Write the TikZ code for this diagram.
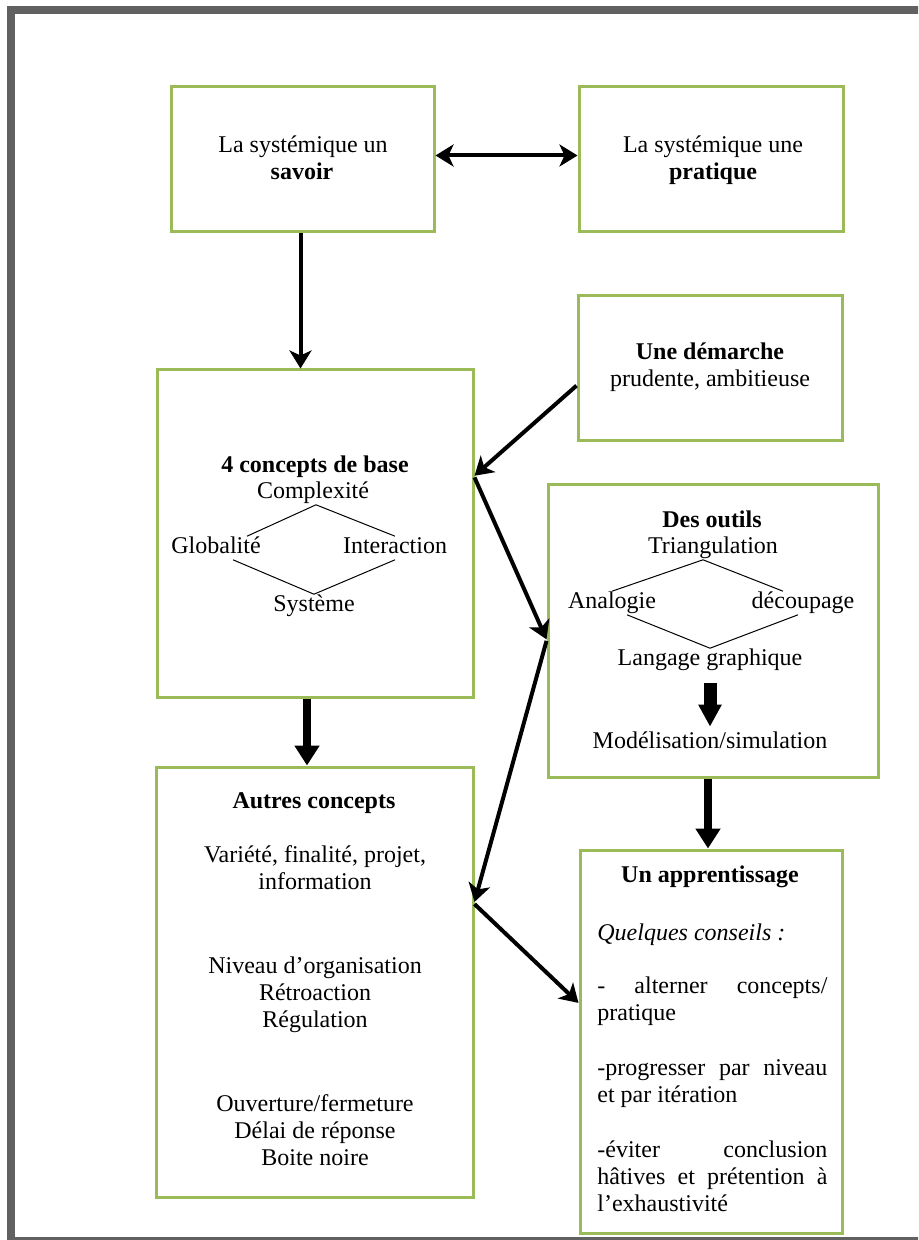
\documentclass[tikz,border=0pt]{standalone}
\usepackage{fontspec}
\setmainfont{Liberation Serif}
\usetikzlibrary{arrows.meta,calc,fit}
\definecolor{vertcadre}{RGB}{155,187,89}
\definecolor{griscadre}{RGB}{97,97,97}

\tikzset{
  cadre/.style={draw=vertcadre, line width=1.5pt, inner sep=0pt},
  ligne/.style={inner sep=0pt, font=\fontsize{12pt}{13.5pt}\selectfont, text height=8.4pt, text depth=3pt},
  titre/.style={ligne, font=\fontsize{12pt}{13.5pt}\selectfont\bfseries},
  trait/.style={line width=0.5pt},
  fleche/.style={line width=2pt, -{Stealth[length=9pt,width=11pt,inset=2.5pt]}},
  grossefleche/.style={line width=4pt, -{Triangle[length=10pt,width=12pt]}},
}

\begin{document}
\begin{tikzpicture}[x=0.5pt, y=-0.5pt]
            \useasboundingbox (0,0) rectangle (918,1240);
            \clip (0,0) rectangle (918,1240);

            % grey frame round the page
            \draw[griscadre, line width=4pt] (940,10) -- (11,10) -- (11,1241) -- (940,1241);

            % boxes
            \node[cadre, fit={(171,87) (434,232)}] (savoir) {};
            \node[cadre, fit={(579,87) (843,232)}] (pratique) {};
            \node[cadre, fit={(578,296) (842,440)}] (demarche) {};
            \node[cadre, fit={(157,370) (473,697)}] (concepts) {};
            \node[cadre, fit={(548,484) (878,777)}] (outils) {};
            \node[cadre, fit={(156,767) (473,1197)}] (autres) {};
            \node[cadre, fit={(580,850) (842,1233)}] (apprent) {};

            % top row
            \node[ligne] (savoir1) at (303,147) {La systémique un};
            \node[titre] (savoir2) at (302,174) {savoir};
            \node[ligne] (pratique1) at (713,147) {La systémique une};
            \node[titre] (pratique2) at (713,174) {pratique};
            \node[titre] (demarche1) at (710,354) {Une démarche};
            \node[ligne] (demarche2) at (710,381) {prudente, ambitieuse};

            % 4 concepts de base
            \node[titre] (titre4) at (315,467) {4 concepts de base};
            \node[ligne] (cplx) at (313,493) {Complexité};
            \node[ligne] (glob) at (216,548) {Globalité};
            \node[ligne] (inter) at (395,548) {Interaction};
            \node[ligne] (syst) at (314,606) {Système};
            \draw[trait] ($(cplx.south)+(3,0)$) -- ($(glob.north)+(31,0)$);
            \draw[trait] ($(cplx.south)+(3,0)$) -- (inter.north);
            \draw[trait] ($(glob.south)+(17,0)$) -- (syst.north);
            \draw[trait] (inter.south) -- (syst.north);

            % des outils
            \node[titre] (titre5) at (712,522) {Des outils};
            \node[ligne] (tri) at (713,548) {Triangulation};
            \node[ligne] (ana) at (612,603) {Analogie};
            \node[ligne] (dec) at (803,603) {découpage};
            \node[ligne] (lang) at (710,660) {Langage graphique};
            \node[ligne] (model) at (710,743) {Modélisation/simulation};
            \draw[trait] ($(tri.south)+(-10,0)$) -- (ana.north);
            \draw[trait] ($(tri.south)+(-10,0)$) -- ($(dec.north)+(-20,0)$);
            \draw[trait] ($(ana.south)+(15,0)$) -- (lang.north);
            \draw[trait] ($(dec.south)+(-5,0)$) -- (lang.north);
            \draw[line width=6.5pt, -{Triangle[length=11pt,width=11pt]}, shorten <=5.8pt, shorten >=2.3pt] (lang.south) -- (model.north);

            % autres concepts
            \node[titre] (titre6) at (314,803) {Autres concepts};
            \foreach \y/\txt [count=\k] in {857/{Variété, finalité, projet,}, 884/information,
                    968/Niveau d’organisation, 995/Rétroaction, 1022/Régulation,
                    1106/{Ouverture/fermeture}, 1133/Délai de réponse, 1160/Boite noire}
            \node[ligne] (autre\k) at (315,\y) {\txt};

            % un apprentissage
            \node[titre] (titre7) at (710,877) {Un apprentissage};
            \node[ligne, anchor=west] (conseils) at (597,935) {\itshape Quelques conseils :};
            \foreach \y/\mode/\txt [count=\k] in {988/s/{- alterner concepts/}, 1015/l/pratique,
                    1070/s/-progresser par niveau, 1097/l/et par itération,
                    1152/s/-éviter conclusion, 1179/s/hâtives et prétention à, 1206/l/l’exhaustivité}
            \node[ligne, anchor=west] (conseil\k) at (597,\y) {\makebox[115pt][\mode]{\txt}};

            % arrows
            \draw[fleche, {Stealth[length=9pt,width=11pt,inset=2.5pt]}-{Stealth[length=9pt,width=11pt,inset=2.5pt]}] ([yshift=2pt]savoir.east) -- ([yshift=2pt]pratique.west);
            \draw[fleche] ([xshift=-1pt]savoir.south) -- ([xshift=-1pt]savoir.south |- concepts.north);
            \draw[fleche] ($(demarche.north west)!0.62!(demarche.south west)$) -- ($(concepts.north east)!0.325!(concepts.south east)$);
            \draw[fleche] ($(concepts.north east)!0.33!(concepts.south east)$) -- ($(outils.north west)!0.53!(outils.south west)$);
            \draw[fleche] ($(outils.north west)!0.535!(outils.south west)$) -- ($(autres.north east)!0.315!(autres.south east)$);
            \draw[fleche] ($(autres.north east)!0.32!(autres.south east)$) -- ($(apprent.north west)!0.4!(apprent.south west)$);
            \draw[grossefleche] ([xshift=-4pt]concepts.south) -- ([xshift=-4pt]concepts.south |- autres.north);
            \draw[grossefleche] ([xshift=-2.5pt]outils.south) -- ([xshift=-2.5pt]outils.south |- apprent.north);
\end{tikzpicture}
\end{document}
